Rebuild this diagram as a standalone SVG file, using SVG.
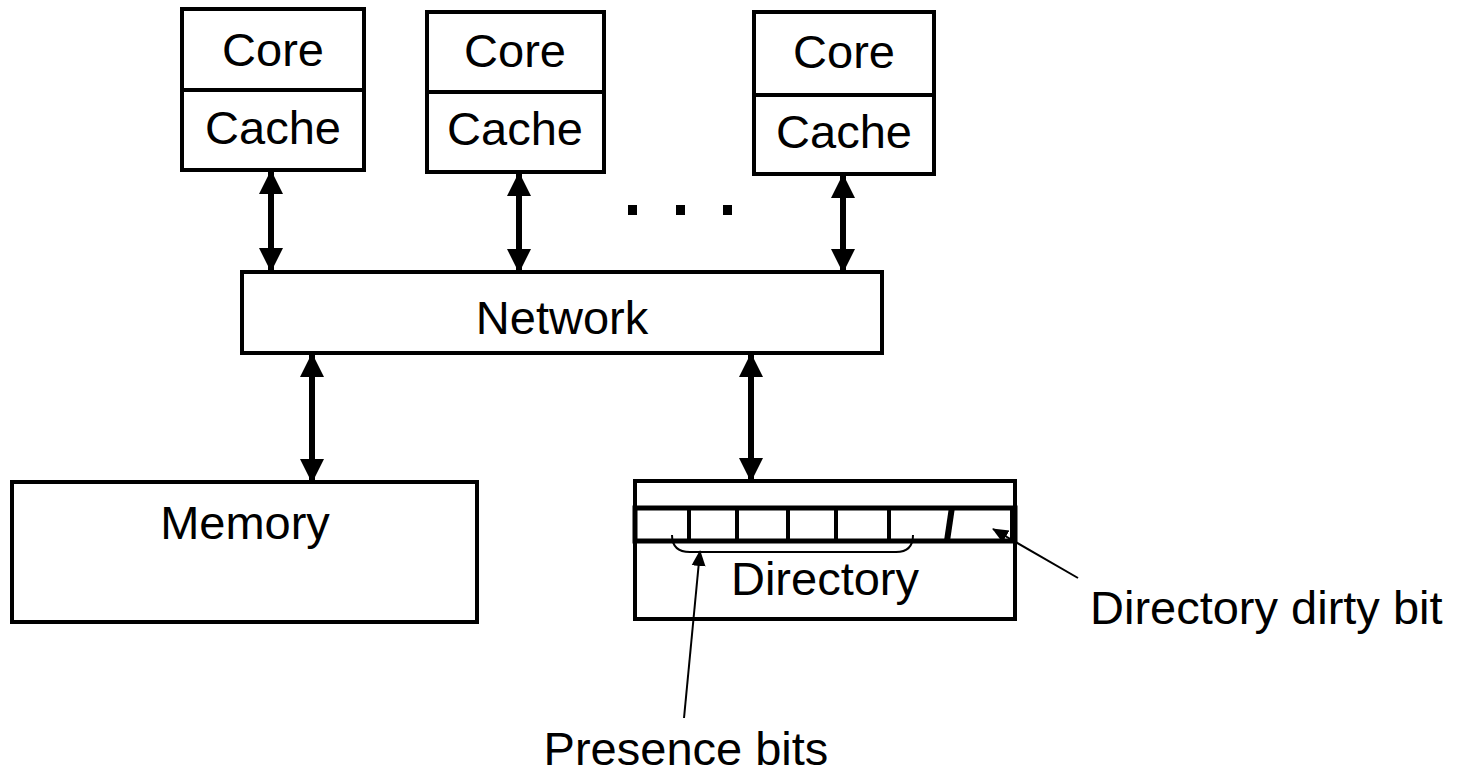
<svg xmlns="http://www.w3.org/2000/svg" width="1464" height="776" viewBox="0 0 1464 776">
<style>
.box{fill:#fff;stroke:#000;stroke-width:4}
.t{font-family:"Liberation Sans",Arial,sans-serif;font-size:47px;fill:#000}
.c{text-anchor:middle}
.conn{stroke:#000;stroke-width:6;fill:none}
.thin{stroke:#000;stroke-width:2;fill:none}
</style>
<defs>
<marker id="ah" markerUnits="userSpaceOnUse" markerWidth="24" markerHeight="24" viewBox="0 0 24 24" refX="22" refY="12" orient="auto-start-reverse">
<path d="M0,0 L24,12 L0,24 Z" fill="#000"/>
</marker>
<marker id="sh" markerUnits="userSpaceOnUse" markerWidth="16" markerHeight="16" viewBox="0 0 16 16" refX="15" refY="8" orient="auto">
<path d="M0,1 L16,8 L0,15 Z" fill="#000"/>
</marker>
</defs>
<rect width="1464" height="776" fill="#fff"/>
<g id="pe1">
<rect class="box" x="182" y="9" width="182" height="161"/>
<line x1="182" y1="90" x2="364" y2="90" stroke="#000" stroke-width="4"/>
<text class="t c" x="273" y="66">Core</text>
<text class="t c" x="273" y="144">Cache</text>
</g>
<g id="pe2">
<rect class="box" x="427" y="12" width="177" height="160"/>
<line x1="427" y1="92" x2="604" y2="92" stroke="#000" stroke-width="4"/>
<text class="t c" x="515" y="67">Core</text>
<text class="t c" x="515" y="145">Cache</text>
</g>
<g id="pe3">
<rect class="box" x="754" y="12" width="180" height="162"/>
<line x1="754" y1="95" x2="934" y2="95" stroke="#000" stroke-width="4"/>
<text class="t c" x="844" y="68">Core</text>
<text class="t c" x="844" y="148">Cache</text>
</g>
<g id="dots">
<rect x="628" y="205" width="9" height="10"/>
<rect x="676" y="205" width="9" height="10"/>
<rect x="723" y="205" width="9" height="10"/>
</g>
<g id="network">
<rect class="box" x="242" y="272" width="640" height="81"/>
<text class="t c" x="562" y="334">Network</text>
</g>
<g id="memory">
<rect class="box" x="12" y="482" width="465" height="140"/>
<text class="t c" x="245" y="539">Memory</text>
</g>
<g id="directory">
<rect class="box" x="635" y="481" width="380" height="138"/>
<rect x="635" y="508" width="380" height="33" fill="#fff" stroke="#000" stroke-width="5"/>
<g stroke="#000" stroke-width="4">
<line x1="689" y1="508" x2="689" y2="541"/>
<line x1="737" y1="508" x2="737" y2="541"/>
<line x1="788" y1="508" x2="788" y2="541"/>
<line x1="836" y1="508" x2="836" y2="541"/>
<line x1="889" y1="508" x2="889" y2="541"/>
</g>
<line x1="952" y1="507" x2="947" y2="541" stroke="#000" stroke-width="6"/>
<line x1="1013" y1="508" x2="1013" y2="541" stroke="#000" stroke-width="6"/>
<path class="thin" d="M672,535 Q672,552 690,552 L896,552 Q913,552 913,535"/>
<text class="t c" x="825" y="595">Directory</text>
</g>
<g id="connectors">
<line class="conn" x1="271" y1="172" x2="271" y2="270" marker-start="url(#ah)" marker-end="url(#ah)"/>
<line class="conn" x1="519" y1="174" x2="519" y2="271" marker-start="url(#ah)" marker-end="url(#ah)"/>
<line class="conn" x1="843" y1="176" x2="843" y2="271" marker-start="url(#ah)" marker-end="url(#ah)"/>
<line class="conn" x1="312" y1="355" x2="312" y2="481" marker-start="url(#ah)" marker-end="url(#ah)"/>
<line class="conn" x1="751" y1="355" x2="751" y2="480" marker-start="url(#ah)" marker-end="url(#ah)"/>
<line class="thin" x1="684" y1="718" x2="700" y2="551" marker-end="url(#sh)"/>
<line class="thin" x1="1078" y1="578" x2="993" y2="529" marker-end="url(#sh)"/>
</g>
<g id="labels">
<text class="t" x="1090" y="624">Directory dirty bit</text>
<text class="t c" x="686" y="765">Presence bits</text>
</g>
</svg>
